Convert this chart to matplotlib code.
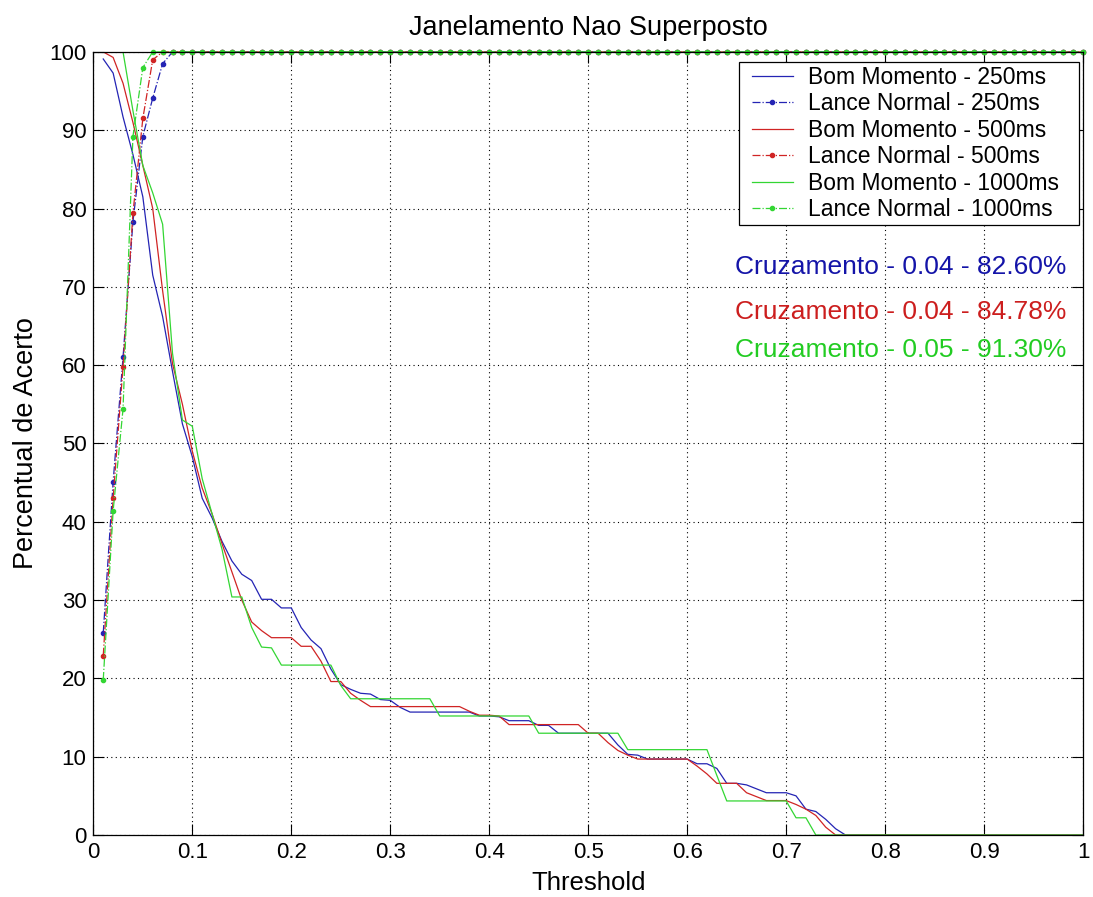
import numpy as np
import matplotlib
matplotlib.use("Agg")
import matplotlib.pyplot as plt
from matplotlib.patches import Rectangle
from matplotlib.transforms import IdentityTransform
from matplotlib.ticker import FormatStrFormatter, MultipleLocator

plt.rcParams["font.family"] = ["Liberation Sans", "DejaVu Sans"]

# threshold grid (0.01 .. 1.00)
threshold = np.round(np.arange(1, 101) / 100.0, 2)

# "Bom Momento" curves, values for 0.01 .. 0.80, then zero up to 1.0
bom_250 = [
    99.1, 97.3, 91.7, 86.9, 81.5, 71.5, 66.2, 59.2, 52.5, 48.3,
    43.0, 40.5, 37.5, 35.0, 33.3, 32.5, 30.1, 30.1, 29.0, 29.0,
    26.5, 24.9, 23.8, 21.2, 19.2, 18.6, 18.1, 18.0, 17.3, 17.2,
    16.3, 15.7, 15.7, 15.7, 15.7, 15.7, 15.7, 15.7, 15.2, 15.2,
    15.1, 14.6, 14.6, 14.6, 14.0, 14.0, 13.0, 13.0, 13.0, 13.0,
    13.0, 13.0, 11.5, 10.3, 10.2, 9.7, 9.7, 9.7, 9.7, 9.7,
    9.1, 9.1, 8.5, 6.6, 6.6, 6.4, 5.9, 5.4, 5.4, 5.4,
    5.0, 3.3, 3.0, 2.0, 0.8, 0.0, 0.0, 0.0, 0.0, 0.0,
] + [0.0] * 20
bom_500 = [
    100.0, 99.3, 96.0, 91.0, 85.5, 80.0, 69.5, 60.2, 55.0, 49.0,
    44.3, 41.0, 37.2, 33.6, 30.0, 27.2, 26.1, 25.2, 25.2, 25.2,
    24.1, 24.1, 22.2, 19.6, 19.6, 18.1, 17.2, 16.4, 16.4, 16.4,
    16.4, 16.4, 16.4, 16.4, 16.4, 16.4, 16.4, 15.8, 15.3, 15.3,
    15.2, 14.1, 14.1, 14.1, 14.1, 14.1, 14.1, 14.1, 14.1, 13.0,
    13.0, 11.8, 10.8, 10.2, 9.7, 9.7, 9.7, 9.7, 9.7, 9.7,
    8.8, 7.8, 6.6, 6.6, 6.6, 5.4, 4.9, 4.4, 4.4, 4.4,
    3.9, 3.3, 2.5, 1.0, 0.0, 0.0, 0.0, 0.0, 0.0, 0.0,
] + [0.0] * 20
bom_1000 = [
    100.0, 100.0, 100.0, 92.5, 85.5, 82.0, 78.0, 61.5, 53.0, 52.2,
    45.5, 41.0, 36.5, 30.4, 30.4, 26.5, 24.0, 23.9, 21.7, 21.7,
    21.7, 21.7, 21.7, 21.7, 19.1, 17.4, 17.4, 17.4, 17.4, 17.4,
    17.4, 17.4, 17.4, 17.4, 15.2, 15.2, 15.2, 15.2, 15.2, 15.2,
    15.2, 15.2, 15.2, 15.2, 13.0, 13.0, 13.0, 13.0, 13.0, 13.0,
    13.0, 13.0, 13.0, 10.9, 10.9, 10.9, 10.9, 10.9, 10.9, 10.9,
    10.9, 10.9, 7.6, 4.35, 4.35, 4.35, 4.35, 4.35, 4.35, 4.35,
    2.2, 2.2, 0.0, 0.0, 0.0, 0.0, 0.0, 0.0, 0.0, 0.0,
] + [0.0] * 20

# "Lance Normal" curves, rising part, then saturated at 100
lance_250 = [25.8, 45.1, 61.0, 78.3, 89.2, 94.1, 98.5] + [100.0] * 93
lance_500 = [22.9, 43.0, 59.8, 79.4, 91.5, 99.0] + [100.0] * 94
lance_1000 = [19.8, 41.4, 54.4, 89.2, 98.0] + [100.0] * 95

labels = [
    "Bom Momento - 250ms", "Lance Normal - 250ms",
    "Bom Momento - 500ms", "Lance Normal - 500ms",
    "Bom Momento - 1000ms", "Lance Normal - 1000ms",
]
cross_texts = [
    "Cruzamento - 0.04 - 82.60%",
    "Cruzamento - 0.04 - 84.78%",
    "Cruzamento - 0.05 - 91.30%",
]
cross_y = [72.6, 66.8, 62.0]

line_colors = ["#2424b4", "#d02424", "#33d633"]
text_colors = ["#1414a8", "#cc1e1e", "#22cc22"]

fig = plt.figure(figsize=(10.93, 8.97), dpi=100)
ax = fig.add_axes([0.0854, 0.0691, 0.9055, 0.873])

series = [(bom_250, lance_250), (bom_500, lance_500), (bom_1000, lance_1000)]
for i, (bom, lance) in enumerate(series):
    c = line_colors[i]
    ax.plot(threshold, bom, "-", color=c, lw=0.9, label=labels[2 * i])
    ax.plot(threshold, lance, "-.", color=c, lw=0.9, marker=".",
            markersize=6, clip_on=False, label=labels[2 * i + 1])

for txt, y, c in zip(cross_texts, cross_y, text_colors):
    ax.text(0.983, y, txt, color=c, fontsize=19, ha="right", va="center")

ax.set_xlim(0, 1)
ax.set_ylim(0, 100)
ax.xaxis.set_major_locator(MultipleLocator(0.1))
ax.yaxis.set_major_locator(MultipleLocator(10))
ax.xaxis.set_major_formatter(FormatStrFormatter("%g"))
ax.yaxis.set_major_formatter(FormatStrFormatter("%g"))
ax.tick_params(direction="in", length=8, width=0.8, labelsize=16,
               top=True, right=True, pad=5)
ax.grid(True, color="k", linestyle=(0, (1, 3)), linewidth=0.8)
for sp in ax.spines.values():
    sp.set_linewidth(0.9)
    sp.set_zorder(3)

ax.set_title("Janelamento Nao Superposto", fontsize=19.5, pad=12)
ax.set_xlabel("Threshold", fontsize=18.5, labelpad=6)
ax.set_ylabel("Percentual de Acerto", fontsize=19.5, labelpad=7)

# legend without its own frame; a wider box (matlab style) is drawn below it
leg = ax.legend(loc="upper right", bbox_to_anchor=(0.9755, 0.982),
                fontsize=16.5, frameon=False, handlelength=1.8,
                labelspacing=0.15, borderpad=0.0, handletextpad=0.65,
                borderaxespad=0)
leg.set_zorder(6)

fig.canvas.draw()
bb = leg.get_window_extent()
pad_l, pad_r, pad_v = 12.5, 20.0, 4.0
frame = Rectangle((bb.x0 - pad_l, bb.y0 - pad_v),
                  bb.width + pad_l + pad_r, bb.height + 2 * pad_v,
                  transform=IdentityTransform(), facecolor="white",
                  edgecolor="k", linewidth=0.9, zorder=5.5, clip_on=False)
ax.add_patch(frame)

fig.savefig("out.png", dpi=100)
